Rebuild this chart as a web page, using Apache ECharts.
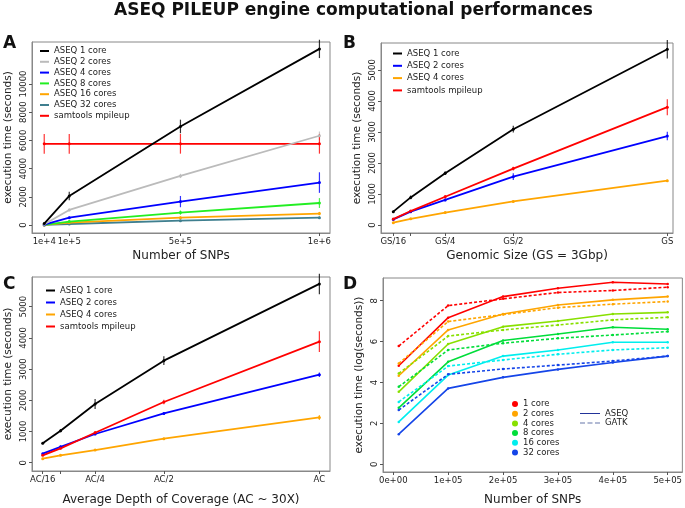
<!DOCTYPE html>
<html>
<head>
<meta charset="utf-8">
<script src="https://cdn.jsdelivr.net/npm/echarts@6/dist/echarts.min.js"></script>
<style>
  body { margin: 0; background: #fff; }
  .pane { position: absolute; left: 0; top: 0; width: 685px; height: 508px; }
</style>
</head>
<body>
<div class="pane" id="chartA"></div>
<div class="pane" id="chartB"></div>
<div class="pane" id="chartC"></div>
<div class="pane" id="chartD"></div>
<script>
// ---- panel A : number of SNPs ----
const snpA = [1e4, 1e5, 5e5, 1e6];
const snpATicks = ['1e+4', '1e+5', '5e+5', '1e+6'];
const a1core = [100, 2060, 6990, 12490];
const a1coreErr = [80, 300, 480, 650];
const a2cores = [50, 1070, 3480, 6330];
const a2coresErr = [20, 100, 150, 300];
const a4cores = [20, 520, 1660, 3010];
const a4coresErr = [10, 80, 400, 730];
const a8cores = [10, 240, 880, 1560];
const a8coresErr = [10, 60, 150, 350];
const a16cores = [5, 170, 520, 810];
const a16coresErr = [5, 40, 80, 120];
const a32cores = [3, 70, 310, 520];
const a32coresErr = [3, 30, 60, 80];
const aSamtools = [5760, 5760, 5760, 5760];
const aSamtoolsErr = [700, 700, 700, 700];

// ---- panel B : genomic size ----
const gsX = [0.0625, 0.122, 0.24, 0.473, 1];
const gsTicks = ['GS/16', '', 'GS/4', 'GS/2', 'GS'];
const b1core = [430, 890, 1670, 3090, 5670];
const b1coreErr = [30, 60, 60, 110, 300];
const b2cores = [180, 430, 810, 1560, 2870];
const b2coresErr = [20, 30, 40, 110, 140];
const b4cores = [75, 200, 400, 760, 1430];
const b4coresErr = [10, 15, 20, 20, 30];
const bSamtools = [190, 450, 910, 1820, 3800];
const bSamtoolsErr = [20, 30, 60, 60, 260];

// ---- panel C : depth of coverage ----
const acX = [0.0625, 0.123, 0.24, 0.473, 1];
const acTicks = ['AC/16', '', 'AC/4', 'AC/2', 'AC'];
const c1core = [620, 1025, 1880, 3270, 5730];
const c1coreErr = [30, 50, 160, 140, 330];
const c2cores = [290, 510, 920, 1580, 2820];
const c2coresErr = [20, 40, 40, 40, 70];
const c4cores = [130, 235, 405, 770, 1450];
const c4coresErr = [10, 15, 20, 20, 80];
const cSamtools = [235, 460, 960, 1945, 3880];
const cSamtoolsErr = [20, 30, 60, 70, 330];

// ---- panel D : log execution time, ASEQ vs GATK ----
const snpD = [1e4, 1e5, 2e5, 3e5, 4e5, 5e5];
const snpDTickVals = [0, 1e5, 2e5, 3e5, 4e5, 5e5];
const snpDTicks = ['0e+00', '1e+05', '2e+05', '3e+05', '4e+05', '5e+05'];
const coreNames = ['1 core', '2 cores', '4 cores', '8 cores', '16 cores', '32 cores'];
const aseqD = [
  [4.82, 7.17, 8.20, 8.61, 8.90, 8.82],
  [4.33, 6.57, 7.35, 7.79, 8.04, 8.20],
  [3.54, 5.88, 6.73, 7.01, 7.35, 7.43],
  [2.76, 5.01, 6.05, 6.37, 6.70, 6.60],
  [2.07, 4.36, 5.29, 5.59, 5.97, 5.97],
  [1.47, 3.71, 4.25, 4.64, 4.98, 5.29]
];
const gatkD = [
  [5.78, 7.76, 8.09, 8.40, 8.50, 8.66],
  [4.93, 6.98, 7.32, 7.66, 7.83, 7.96],
  [4.44, 6.27, 6.57, 6.81, 7.06, 7.19],
  [3.79, 5.59, 5.92, 6.16, 6.32, 6.49],
  [3.05, 4.80, 5.10, 5.38, 5.59, 5.70],
  [2.65, 4.40, 4.66, 4.85, 5.05, 5.29]
];
const coreColorsD = ['#ff0000', '#ffa500', '#88e000', '#00dd3a', '#00eeee', '#1545e8'];

const FONT = 'DejaVu Sans';

function lineSeries(name, xs, ys, color, extra) {
  return Object.assign({
    name: name,
    type: 'line',
    data: xs.map((x, i) => [x, ys[i]]),
    symbol: 'circle',
    symbolSize: 3,
    itemStyle: { color: color },
    lineStyle: { color: color, width: 1.8 },
    animation: false
  }, extra || {});
}

function errSeries(xs, ys, es, color) {
  return {
    type: 'custom',
    data: xs.map((x, i) => [x, ys[i] - es[i], ys[i] + es[i]]),
    renderItem: (params, api) => {
      const p1 = api.coord([api.value(0), api.value(1)]);
      const p2 = api.coord([api.value(0), api.value(2)]);
      return {
        type: 'line',
        shape: { x1: p1[0], y1: p1[1], x2: p2[0], y2: p2[1] },
        style: { stroke: color, lineWidth: 1.2, opacity: 0.8 }
      };
    },
    silent: true,
    animation: false,
    z: 3
  };
}

function xAxisCfg(name, min, max, tickVals, tickLabels, nameGap) {
  return {
    type: 'value', min: min, max: max,
    name: name, nameLocation: 'middle', nameGap: nameGap,
    nameTextStyle: { fontFamily: FONT, fontSize: 12, color: '#222' },
    axisLine: { show: true, onZero: false, lineStyle: { color: '#888' } },
    axisTick: { show: true, length: 3, customValues: tickVals, lineStyle: { color: '#555' } },
    axisLabel: {
      customValues: tickVals, margin: 4,
      fontFamily: FONT, fontSize: 8.5, color: '#222',
      formatter: v => tickLabels[tickVals.indexOf(v)]
    },
    splitLine: { show: false }
  };
}

function yAxisCfg(name, min, max, tickVals, nameGap) {
  return {
    type: 'value', min: min, max: max,
    name: name, nameLocation: 'middle', nameGap: nameGap,
    nameTextStyle: { fontFamily: FONT, fontSize: 10.5, color: '#222' },
    axisLine: { show: true, onZero: false, lineStyle: { color: '#888' } },
    axisTick: { show: true, length: 3, customValues: tickVals, lineStyle: { color: '#555' } },
    axisLabel: {
      customValues: tickVals, margin: 4, rotate: 90,
      fontFamily: FONT, fontSize: 8.5, color: '#222',
      formatter: v => String(v)
    },
    splitLine: { show: false }
  };
}

function letter(text, left, top) {
  return { text: text, left: left, top: top, padding: 0,
    textStyle: { fontFamily: FONT, fontSize: 17, fontWeight: 'bold', color: '#111' } };
}

function legendCfg(names, left, top, lineHeight, gap) {
  return {
    data: names, orient: 'vertical', left: left, top: top, padding: 0,
    icon: 'rect', itemWidth: 9, itemHeight: 2, itemGap: gap,
    textStyle: { fontFamily: FONT, fontSize: 8.5, color: '#222', lineHeight: lineHeight },
    selectedMode: false
  };
}

// ---------- A ----------
const chartA = echarts.init(document.getElementById('chartA'));
const aNames = ['ASEQ 1 core', 'ASEQ 2 cores', 'ASEQ 4 cores', 'ASEQ 8 cores', 'ASEQ 16 cores', 'ASEQ 32 cores', 'samtools mpileup'];
const aData = [a1core, a2cores, a4cores, a8cores, a16cores, a32cores, aSamtools];
const aErr = [a1coreErr, a2coresErr, a4coresErr, a8coresErr, a16coresErr, a32coresErr, aSamtoolsErr];
const aColors = ['#000000', '#bbbbbb', '#0000ff', '#22ee22', '#ffa500', '#3f7f8f', '#ff0000'];
const aSeries = [];
aNames.forEach((n, i) => {
  aSeries.push(lineSeries(n, snpA, aData[i], aColors[i], { z: 10 - i }));
  aSeries.push(errSeries(snpA, aData[i], aErr[i], aColors[i]));
});
chartA.setOption({
  title: [
    { text: 'ASEQ PILEUP engine computational performances', left: 114, top: 2, padding: 0,
      textStyle: { fontFamily: FONT, fontSize: 17, fontWeight: 'bold', color: '#111' } },
    letter('A', 3, 35)
  ],
  grid: { left: 32, top: 42, width: 298, height: 191, show: true, borderColor: '#888', borderWidth: 1 },
  xAxis: xAxisCfg('Number of SNPs', -34000, 1038000, snpA, snpATicks, 17),
  yAxis: yAxisCfg('execution time (seconds)', -567, 12979, [0, 2000, 4000, 6000, 8000, 10000], 18),
  legend: legendCfg(aNames, 40, 46, 10, 0.8),
  series: aSeries
});

// ---------- B ----------
const chartB = echarts.init(document.getElementById('chartB'));
const bNames = ['ASEQ 1 core', 'ASEQ 2 cores', 'ASEQ 4 cores', 'samtools mpileup'];
const bData = [b1core, b2cores, b4cores, bSamtools];
const bErr = [b1coreErr, b2coresErr, b4coresErr, bSamtoolsErr];
const bColors = ['#000000', '#0000ff', '#ffa500', '#ff0000'];
const bSeries = [];
bNames.forEach((n, i) => {
  bSeries.push(lineSeries(n, gsX, bData[i], bColors[i]));
  bSeries.push(errSeries(gsX, bData[i], bErr[i], bColors[i]));
});
chartB.setOption({
  title: [letter('B', 343, 35)],
  grid: { left: 381, top: 43, width: 292, height: 190, show: true, borderColor: '#888', borderWidth: 1 },
  xAxis: xAxisCfg('Genomic Size (GS = 3Gbp)', 0.0204, 1.0195, gsX, gsTicks, 17),
  yAxis: yAxisCfg('execution time (seconds)', -258, 5871, [0, 1000, 2000, 3000, 4000, 5000], 18),
  legend: legendCfg(bNames, 393, 48, 11, 1.3),
  series: bSeries
});

// ---------- C ----------
const chartC = echarts.init(document.getElementById('chartC'));
const cData = [c1core, c2cores, c4cores, cSamtools];
const cErr = [c1coreErr, c2coresErr, c4coresErr, cSamtoolsErr];
const cSeries = [];
bNames.forEach((n, i) => {
  cSeries.push(lineSeries(n, acX, cData[i], bColors[i]));
  cSeries.push(errSeries(acX, cData[i], cErr[i], bColors[i]));
});
chartC.setOption({
  title: [letter('C', 3, 276)],
  grid: { left: 32, top: 277, width: 298, height: 194, show: true, borderColor: '#888', borderWidth: 1 },
  xAxis: xAxisCfg('Average Depth of Coverage (AC ~ 30X)', 0.0262, 1.036, acX, acTicks, 23),
  yAxis: yAxisCfg('execution time (seconds)', -266, 5952, [0, 1000, 2000, 3000, 4000, 5000], 18),
  legend: legendCfg(bNames, 46, 285, 11, 1),
  series: cSeries
});

// ---------- D ----------
const chartD = echarts.init(document.getElementById('chartD'));
const dSeries = [];
coreNames.forEach((n, i) => {
  dSeries.push(lineSeries(n, snpD, aseqD[i], coreColorsD[i], { symbolSize: 2.5, lineStyle: { color: coreColorsD[i], width: 1.6 } }));
  dSeries.push(lineSeries(n + ' GATK', snpD, gatkD[i], coreColorsD[i], { symbolSize: 2.5, lineStyle: { color: coreColorsD[i], width: 1.6, type: [3, 2] } }));
});
dSeries.push({ name: 'ASEQ', type: 'line', data: [], itemStyle: { color: '#223399' }, lineStyle: { color: '#223399', width: 1.2 } });
dSeries.push({ name: 'GATK', type: 'line', data: [], itemStyle: { color: '#6677aa' }, lineStyle: { color: '#6677aa', width: 1.2, type: [3, 2] } });
chartD.setOption({
  title: [letter('D', 343, 276)],
  grid: { left: 383, top: 278, width: 300, height: 194, show: true, borderColor: '#888', borderWidth: 1 },
  xAxis: xAxisCfg('Number of SNPs', -18700, 526700, snpDTickVals, snpDTicks, 22),
  yAxis: yAxisCfg('execution time (log(seconds))', -0.38, 9.11, [0, 2, 4, 6, 8], 18),
  legend: [
    {
      data: coreNames, orient: 'vertical', left: 512, top: 399.5, padding: 0,
      icon: 'circle', itemWidth: 6, itemHeight: 6, itemGap: 0.7,
      textStyle: { fontFamily: FONT, fontSize: 8.5, color: '#222', lineHeight: 9 },
      selectedMode: false
    },
    {
      data: [
        { name: 'ASEQ', icon: 'path://M0,0 L20,0 L20,1 L0,1 Z' },
        { name: 'GATK', icon: 'path://M0,0 L5,0 L5,1 L0,1 Z M7.5,0 L12.5,0 L12.5,1 L7.5,1 Z M15,0 L20,0 L20,1 L15,1 Z' }
      ],
      orient: 'vertical', left: 580, top: 409, padding: 0,
      itemWidth: 20, itemHeight: 1.3, itemGap: 0.5,
      textStyle: { fontFamily: FONT, fontSize: 8.5, color: '#222', lineHeight: 9 },
      selectedMode: false
    }
  ],
  series: dSeries
});
</script>
</body>
</html>
